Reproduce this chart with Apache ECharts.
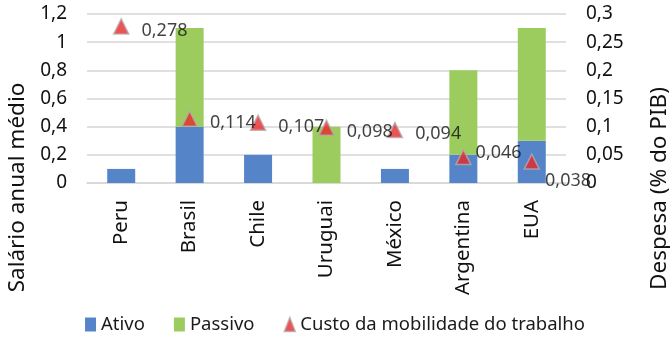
<!DOCTYPE html>
<html>
<head>
<meta charset="utf-8">
<script src="https://cdn.jsdelivr.net/npm/echarts@6/dist/echarts.min.js"></script>
<style>
  html, body { margin: 0; padding: 0; background: #fff; }
  #chart { width: 670px; height: 341px; }
</style>
</head>
<body>
<div id="chart"></div>
<script>
// Countries along the x axis
const countries = ['Peru', 'Brasil', 'Chile', 'Uruguai', 'México', 'Argentina', 'EUA'];
// Active and passive labour-market policy spending (stacked bars, left axis)
const ativo   = [0.1, 0.4, 0.2, 0, 0.1, 0.2, 0.3];
const passivo = [0, 0.7, 0, 0.4, 0, 0.6, 0.8];
// Labour mobility cost (triangles, right axis)
const custo = [0.278, 0.114, 0.107, 0.098, 0.094, 0.046, 0.038];

const FONT = 'Noto Sans';
const comma = v => String(+Number(v).toFixed(3)).replace('.', ',');

// per-point label nudges for the last two triangles
const labelOffsets = { 5: [-8, -4], 6: [-7, 19] };
const custoData = custo.map((v, i) => {
  const item = { value: v };
  if (labelOffsets[i]) item.label = { offset: labelOffsets[i] };
  return item;
});

const chart = echarts.init(document.getElementById('chart'));
chart.setOption({
  animation: false,
  textStyle: { fontFamily: FONT },
  grid: { left: 87, right: 104, top: 14, bottom: 158, containLabel: false },
  legend: {
    bottom: 2,
    left: 'center',
    itemGap: 29,
    itemWidth: 11,
    itemHeight: 14,
    textStyle: { fontFamily: FONT, fontSize: 18.5, color: '#1a1a1a' },
    data: [
      { name: 'Ativo', icon: 'rect' },
      { name: 'Passivo', icon: 'rect' },
      { name: 'Custo da mobilidade do trabalho', icon: 'triangle', itemStyle: { borderColor: '#b5aaaa', borderWidth: 1.5 } }
    ]
  },
  xAxis: {
    type: 'category',
    data: countries,
    axisTick: { show: false },
    axisLine: { lineStyle: { color: '#d6d6d6', width: 1.5 } },
    axisLabel: { rotate: 90, margin: 17, fontFamily: FONT, fontSize: 20.5, color: '#111' }
  },
  yAxis: [
    {
      type: 'value', min: 0, max: 1.2, interval: 0.2,
      axisLine: { show: false }, axisTick: { show: false },
      splitLine: { lineStyle: { color: '#d6d6d6', width: 1.5 } },
      axisLabel: { margin: 20, fontFamily: FONT, fontSize: 19, color: '#111', formatter: comma }
    },
    {
      type: 'value', min: 0, max: 0.3, interval: 0.05,
      axisLine: { show: false }, axisTick: { show: false },
      splitLine: { show: false },
      axisLabel: { margin: 20, fontFamily: FONT, fontSize: 19, color: '#111', formatter: comma }
    }
  ],
  graphic: [
    {
      type: 'text', x: 18, y: 187.5, rotation: Math.PI / 2,
      style: { text: 'Salário anual médio', x: 0, y: 0, align: 'center', verticalAlign: 'middle',
               font: '22.5px "Noto Sans"', fill: '#111' }
    },
    {
      type: 'text', x: 660, y: 188.5, rotation: Math.PI / 2,
      style: { text: 'Despesa (% do PIB)', x: 0, y: 0, align: 'center', verticalAlign: 'middle',
               font: '22.5px "Noto Sans"', fill: '#111' }
    }
  ],
  series: [
    {
      name: 'Ativo', type: 'bar', stack: 'total', barWidth: 28,
      itemStyle: { color: '#5585c8' },
      data: ativo
    },
    {
      name: 'Passivo', type: 'bar', stack: 'total', barWidth: 28,
      itemStyle: { color: '#9ccc5e' },
      data: passivo
    },
    {
      name: 'Custo da mobilidade do trabalho', type: 'scatter', yAxisIndex: 1,
      symbol: 'triangle', symbolSize: 15,
      itemStyle: { color: '#e8272b', borderColor: '#b5aaaa', borderWidth: 1.5 },
      label: {
        show: true, position: 'right', distance: 12, offset: [0, 4],
        fontFamily: FONT, fontSize: 18, color: '#111',
        formatter: p => comma(p.value)
      },
      z: 5,
      data: custoData
    }
  ]
});
</script>
</body>
</html>
